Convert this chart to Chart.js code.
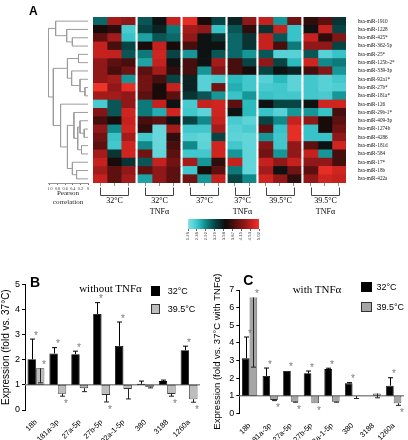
<!DOCTYPE html>
<html><head><meta charset="utf-8">
<script src="https://cdn.jsdelivr.net/npm/chart.js@4.4.1/dist/chart.umd.min.js"></script>
<style>
html,body{margin:0;padding:0;background:#fff;}
#wrap{position:relative;width:408px;height:440px;overflow:hidden;background:#fff;}
#wrap canvas{position:absolute;}
.t{position:absolute;white-space:nowrap;color:#000;line-height:1;}
.box{position:absolute;box-sizing:border-box;}
</style></head><body><div id="wrap"></div>
<script>
// ---------------- DATA ----------------
const rowNames = ['hsa-miR-1910','hsa-miR-1228','hsa-miR-425*','hsa-miR-362-5p','hsa-miR-25*','hsa-miR-125b-2*','hsa-miR-339-3p','hsa-miR-92a1*','hsa-miR-27b*','hsa-miR-181a*','hsa-miR-126','hsa-miR-29b-1*','hsa-miR-409-3p','hsa-miR-1274b','hsa-miR-4286','hsa-miR-181d','hsa-miR-584','hsa-miR-17*','hsa-miR-18b','hsa-miR-422a'];
const groupLabels = [['32°C'],['32°C','TNFα'],['37°C'],['37°C','TNFα'],['39.5°C'],['39.5°C','TNFα']];
const colorTicks = [1.26, 2.36, 2.92, 3.29, 3.58, 3.87, 4.15, 4.53, 5.02];

const heat32 = [[3.1,4.4,4.3],[3.7,3.8,2.2],[4.0,4.4,2.4],[4.6,3.9,3.3],[4.6,4.6,3.2],[4.3,4.0,3.9],[4.3,3.9,4.1],[4.3,4.4,2.8],[5.0,4.3,4.9],[4.4,4.4,4.3],[2.2,3.2,4.3],[4.2,3.2,4.7],[3.9,3.7,4.6],[4.3,2.9,4.7],[4.1,2.4,4.4],[4.0,2.3,4.7],[4.4,3.4,4.7],[4.6,3.7,3.4],[4.4,4.0,4.3],[4.6,4.0,4.4]];
const heat32T = [[3.2,3.6,4.6],[3.3,3.5,3.0],[2.7,3.2,3.1],[3.7,4.6,3.7],[3.0,4.7,3.3],[2.7,4.6,3.6],[4.0,4.4,3.8],[4.1,3.9,3.3],[4.1,3.7,4.6],[4.0,3.7,4.0],[3.0,4.6,3.6],[3.0,2.6,4.7],[3.9,4.0,3.6],[3.8,1.7,4.4],[2.3,1.7,3.8],[2.9,1.7,3.9],[4.1,1.8,4.0],[3.2,4.6,4.1],[4.0,4.3,4.0],[2.7,4.3,4.0]];
const heat37 = [[4.9,3.7,3.3],[4.4,4.3,2.4],[4.3,3.6,3.4],[3.9,3.6,3.6],[2.8,3.6,3.2],[3.9,3.6,4.4],[3.9,2.8,4.2],[3.5,2.0,2.2],[3.5,2.0,4.1],[3.4,3.2,2.8],[2.2,4.6,4.7],[2.3,1.9,4.7],[3.3,2.9,4.6],[2.3,2.3,4.4],[2.0,1.8,3.3],[2.9,1.9,4.7],[2.3,2.3,4.7],[4.4,2.8,3.8],[2.3,3.7,4.0],[4.1,2.8,4.6]];
const heat37T = [[3.5,4.3],[3.2,3.8],[3.1,3.4],[3.1,3.4],[3.1,2.8],[3.9,3.3],[3.9,3.7],[2.5,2.3],[2.6,2.3],[2.4,2.8],[4.0,2.5],[3.6,2.5],[2.2,1.9],[2.0,2.2],[1.9,1.8],[2.3,1.8],[2.8,1.8],[4.6,1.8],[3.0,1.8],[3.3,2.9]];
const heat395 = [[4.6,2.8,4.1],[3.4,4.6,2.4],[4.6,3.2,2.4],[4.6,3.9,3.0],[3.2,2.0,2.0],[4.3,3.3,2.5],[3.3,3.6,3.5],[2.0,2.5,1.9],[2.2,2.3,1.9],[2.4,2.3,2.3],[3.6,3.3,3.3],[2.4,2.0,2.8],[3.3,2.9,4.6],[4.0,2.4,4.9],[2.8,2.3,4.9],[4.2,2.3,4.3],[4.1,2.8,4.3],[4.6,4.3,4.6],[4.4,3.6,4.1],[4.7,4.3,3.8]];
const heat395T = [[3.8,4.0,3.4],[3.6,4.6,3.3],[4.6,3.8,4.2],[4.3,4.3,3.3],[3.2,2.0,2.4],[4.7,2.9,3.0],[3.9,4.2,2.8],[2.3,2.0,2.3],[2.3,2.0,2.1],[2.3,2.2,2.8],[3.6,4.7,4.7],[2.8,2.4,3.9],[4.3,3.7,4.0],[2.4,3.7,4.1],[2.4,2.4,4.3],[4.0,3.6,4.7],[4.6,2.8,3.9],[4.3,4.3,3.9],[4.0,4.9,4.7],[4.3,4.7,4.6]];

// dendrogram merges: [clusterA, clusterB, distance]; ids < 20 are leaves (rows), ids >= 20 are earlier merges
const dendroMerges = [[2,3,0.41],[1,20,0.56],[0,21,0.85],[4,5,0.25],[8,9,0.08],[7,24,0.21],[6,25,0.43],[23,26,0.54],
  [13,14,0.10],[12,28,0.21],[15,16,0.17],[29,30,0.27],[11,31,0.37],[18,19,0.30],[17,33,0.41],[32,34,0.54],[10,35,0.72],[27,36,0.91],[22,37,1.04]];
const dendroTicks = [1.0, 0.8, 0.6, 0.4, 0.2, 0];

const mirCats = ['18b','181a-3p','27a-5p','27b-5p','92a-1-5p','380','3188','1260a'];
// Panel B (without TNFα)
const b32 = [2.02, 2.25, 2.22, 3.82, 2.55, 1.04, 1.15, 2.38];
const b32Whisker = [2.82, 2.48, 2.34, 4.27, 3.50, 1.15, 1.19, 2.54];
const b32Star = [1,1,1,1,1,0,0,1];
const b395 = [1.66, 0.65, 0.87, 0.60, 0.84, 0.91, 0.64, 0.43];
const b395Whisker = [1.08, 0.55, 0.73, 0.32, 0.44, 0.88, 0.55, 0.31];
const b395Star = [1,1,0,1,0,0,1,1];
// Panel C (with TNFα)
const c32 = [3.12, 2.12, 2.40, 2.27, 2.51, 1.70, 1.00, 1.57];
const c32Whisker = [4.33, 2.57, 2.42, 2.40, 2.56, 1.74, 1.00, 2.02];
const c32Star = [1,1,1,1,1,1,0,1];
const c395 = [6.58, 0.76, 0.66, 0.57, 0.66, 0.98, 1.12, 0.57];
const c395Whisker = [2.62, 0.72, 0.63, 0.55, 0.63, 0.84, 0.88, 0.45];
const c395Star = [1,1,1,1,0,0,0,1];

// ---------------- HELPERS ----------------
Chart.defaults.font.family = "'Liberation Sans', Arial, sans-serif";
Chart.defaults.color = '#000';
const wrap = document.getElementById('wrap');
function makeCanvas(left, top, w, h){
  const c = document.createElement('canvas');
  c.width = w; c.height = h;
  c.style.left = left+'px'; c.style.top = top+'px'; c.style.width = w+'px'; c.style.height = h+'px';
  wrap.appendChild(c); return c.getContext('2d');
}
function addText(txt, x, y, font, align){
  const d = document.createElement('div'); d.className='t'; d.textContent = txt; d.style.font = font;
  d.style.left = x+'px'; d.style.top = y+'px';
  d.style.transform = align==='left' ? 'translate(0,-50%)' : 'translate(-50%,-50%)';
  wrap.appendChild(d);
}
function addBox(x, y, w, h, bg, border){
  const d = document.createElement('div'); d.className='box';
  d.style.left=x+'px'; d.style.top=y+'px'; d.style.width=w+'px'; d.style.height=h+'px';
  d.style.background=bg; d.style.border='1px solid '+border; wrap.appendChild(d);
}
const stops = [[0.00,125,222,225],[0.08,90,210,215],[0.15,45,190,195],[0.25,15,135,135],[0.38,8,68,68],[0.53,15,10,10],[0.68,92,16,16],[0.80,145,24,24],[0.90,200,34,32],[1.00,240,52,40]];
function valueToPos(v){
  const n = colorTicks.length-1;
  if (v <= colorTicks[0]) return 0;
  for (let i=0;i<n;i++){ if (v <= colorTicks[i+1]) return (i + (v-colorTicks[i])/(colorTicks[i+1]-colorTicks[i]))/n; }
  return 1;
}
function posToColor(p){
  for (let i=0;i<stops.length-1;i++){
    const a=stops[i], b=stops[i+1];
    if (p <= b[0]){ const t=(p-a[0])/(b[0]-a[0]); return `rgb(${Math.round(a[1]+(b[1]-a[1])*t)},${Math.round(a[2]+(b[2]-a[2])*t)},${Math.round(a[3]+(b[3]-a[3])*t)})`; }
  }
  const l = stops[stops.length-1]; return `rgb(${l[1]},${l[2]},${l[3]})`;
}
const heatColor = v => posToColor(valueToPos(v));

// ---------------- HEATMAP ----------------
const heatGroups = [heat32, heat32T, heat37, heat37T, heat395, heat395T];
const GAP = 0.2;
const columns = []; let xs = 0;
heatGroups.forEach((grp,g)=>{ for (let k=0;k<grp[0].length;k++){ columns.push({g,k,x0:xs}); xs += 1; } xs += GAP; });
const totalX = xs - GAP;

const hmDecor = {
  id:'hmDecor',
  afterDraw(chart){
    const {ctx} = chart; const sx = chart.scales.x; const b = chart.chartArea.bottom;
    const yTop = Math.round(b + 4) + 0.5, yBot = Math.round(b + 12) + 0.5;
    ctx.save(); ctx.strokeStyle='#444'; ctx.lineWidth=1; ctx.fillStyle='#000';
    ctx.font = "8px 'Liberation Serif'"; ctx.textAlign='center'; ctx.textBaseline='middle';
    groupLabels.forEach((lab,g)=>{
      const cols = columns.filter(c=>c.g===g);
      const x1 = Math.round(sx.getPixelForValue(cols[0].x0+0.5))+0.5;
      const x2 = Math.round(sx.getPixelForValue(cols[cols.length-1].x0+0.5))+0.5;
      ctx.beginPath(); ctx.moveTo(x1,yTop); ctx.lineTo(x1,yBot); ctx.lineTo(x2,yBot); ctx.lineTo(x2,yTop); ctx.stroke();
      lab.forEach((t,i)=> ctx.fillText(t,(x1+x2)/2, yBot+5+i*11));
    });
    ctx.restore();
  }
};
new Chart(makeCanvas(88,0,320,220), {
  type:'bar',
  data:{ labels: rowNames, datasets: columns.map(col=>({
    data: rowNames.map(()=>[col.x0, col.x0+1]),
    backgroundColor: rowNames.map((_,r)=>heatColor(heatGroups[col.g][r][col.k])),
    borderWidth:0, barPercentage:1, categoryPercentage:1, grouped:false
  }))},
  options:{
    indexAxis:'y', responsive:false, animation:false, events:[],
    layout:{padding:{left:5, top:17, right:0, bottom:0}},
    plugins:{legend:{display:false}, tooltip:{enabled:false}},
    scales:{
      x:{type:'linear', min:0, max:totalX,
         afterBuildTicks:s=>{ s.ticks = columns.map(c=>({value:c.x0+0.5})); },
         ticks:{display:false},
         grid:{drawOnChartArea:false, drawTicks:true, tickLength:3, color:'#777', lineWidth:0.8},
         border:{display:false}, afterFit:s=>{ s.height = 37; }},
      y:{type:'category', position:'right', offset:true, grid:{display:false}, border:{display:false},
         ticks:{font:{family:"'Liberation Serif'", size:5.2}, padding:4, autoSkip:false, color:'#111'},
         afterFit:s=>{ s.width = 62; }}
    }
  },
  plugins:[hmDecor]
});

// ---------------- DENDROGRAM ----------------
const dPos = rowNames.map((_,i)=>i), dH = rowNames.map(()=>0), dendroSets = [];
dendroMerges.forEach(([a,b,h])=>{
  dendroSets.push({ data:[{x:dH[a],y:dPos[a]},{x:h,y:dPos[a]},{x:h,y:dPos[b]},{x:dH[b],y:dPos[b]}],
    showLine:true, borderColor:'#9c9c9c', borderWidth:1, pointRadius:0, tension:0, fill:false });
  dPos.push((dPos[a]+dPos[b])/2); dH.push(h);
});
new Chart(makeCanvas(30,0,62,220), {
  type:'scatter',
  data:{ datasets: dendroSets },
  options:{
    responsive:false, animation:false, events:[],
    layout:{padding:{left:18, top:17, right:4, bottom:0}},
    plugins:{legend:{display:false}, tooltip:{enabled:false}},
    scales:{
      x:{type:'linear', reverse:true, min:0, max:1.05,
         afterBuildTicks:s=>{ s.ticks = dendroTicks.map(v=>({value:v})); },
         ticks:{font:{family:"'Liberation Serif'", size:4.2}, padding:1, maxRotation:0, autoSkip:false, color:'#333',
                callback:v=> v===0 ? '0' : v.toFixed(1)},
         grid:{drawOnChartArea:false, tickLength:2, color:'#777'},
         border:{display:true, color:'#777', width:0.8},
         title:{display:true, text:['Pearson','correlation'], color:'#222',
                font:{family:"'Liberation Serif'", size:7, lineHeight:1.3}, padding:{top:0, bottom:13.5}},
         afterFit:s=>{ s.height = 37; }},
      y:{type:'linear', display:false, reverse:true, min:-0.5, max:rowNames.length-0.5}
    }
  }
});

// ---------------- COLOR BAR ----------------
new Chart(makeCanvas(180,212,90,36), {
  type:'bar',
  data:{ labels:[''], datasets:[{ data:[[0, colorTicks.length-1]], borderWidth:0, barPercentage:1, categoryPercentage:1,
    backgroundColor:(c)=>{ const a=c.chart.chartArea; if(!a) return '#000';
      const g=c.chart.ctx.createLinearGradient(a.left,0,a.right,0);
      for (let i=0;i<=40;i++){ g.addColorStop(i/40, posToColor(i/40)); } return g; } }]},
  options:{
    indexAxis:'y', responsive:false, animation:false, events:[],
    layout:{padding:{left:8, right:11, top:7, bottom:0}},
    plugins:{legend:{display:false}, tooltip:{enabled:false}},
    scales:{
      x:{type:'linear', min:0, max:colorTicks.length-1,
         afterBuildTicks:s=>{ s.ticks = colorTicks.map((_,i)=>({value:i})); },
         ticks:{callback:v=>colorTicks[v].toFixed(2), minRotation:90, maxRotation:90, autoSkip:false, font:{size:4.2}, padding:1, color:'#444'},
         grid:{drawOnChartArea:false, tickLength:2, color:'#666'}, border:{display:false},
         afterFit:s=>{ s.height = 19; }},
      y:{display:false}
    }
  }
});

// ---------------- BAR CHARTS ----------------
const barDecor = {
  id:'barDecor',
  beforeDatasetsDraw(chart){
    const {ctx, chartArea:a} = chart; const py = chart.scales.y.getPixelForValue(1);
    ctx.save(); ctx.strokeStyle='#8c8c8c'; ctx.lineWidth=1.5;
    ctx.beginPath(); ctx.moveTo(a.left, py); ctx.lineTo(a.right, py); ctx.stroke(); ctx.restore();
  },
  afterDatasetsDraw(chart){
    const {ctx} = chart; const y = chart.scales.y;
    ctx.save();
    chart.data.datasets.forEach((ds,i)=>{
      const meta = chart.getDatasetMeta(i);
      meta.data.forEach((bar,j)=>{
        const v = ds.data[j][1], e = ds.whisker[j];
        const px = Math.round(bar.x)+0.5, pv = y.getPixelForValue(v), pe = y.getPixelForValue(e);
        ctx.strokeStyle = ds.whiskerColor; ctx.lineWidth = 1;
        if (Math.abs(pe-pv) > 0.5){
          ctx.beginPath(); ctx.moveTo(px,pv); ctx.lineTo(px,pe); ctx.moveTo(px-2.5,pe); ctx.lineTo(px+2.5,pe); ctx.stroke();
        }
        if (ds.stars[j]){
          const up = v >= 1; const ext = up ? Math.max(v,e) : Math.min(v,e);
          const ps = y.getPixelForValue(ext);
          ctx.fillStyle='#7a7a7a'; ctx.font="10px 'Liberation Sans'"; ctx.textAlign='center'; ctx.textBaseline='middle';
          ctx.fillText('*', px+3.5, up ? ps-3 : ps+8);
        }
      });
    });
    ctx.restore();
  }
};
function barChart(left, top, w, h, o){
  return new Chart(makeCanvas(left, top, w, h), {
    type:'bar',
    data:{ labels: mirCats, datasets:[
      {label:'32°C', data:o.v32.map(v=>[1,v]), whisker:o.w32, stars:o.s32, whiskerColor:'#000',
       backgroundColor:'#000', borderColor:'#000', borderWidth:0.8, borderSkipped:false},
      {label:'39.5°C', data:o.v395.map(v=>[1,v]), whisker:o.w395, stars:o.s395, whiskerColor:'#222',
       backgroundColor:o.gray, borderColor:'#333', borderWidth:0.8, borderSkipped:false}
    ]},
    options:{
      responsive:false, animation:false, events:[],
      layout:{padding:{left:o.padLeft, top:o.padTop, right:o.padRight, bottom:0}},
      datasets:{bar:{barPercentage:1, categoryPercentage:o.catPct}},
      plugins:{legend:{display:false}, tooltip:{enabled:false}},
      scales:{
        x:{grid:{display:false}, border:{display:false},
           ticks:{font:{size:7.5}, minRotation:45, maxRotation:45, padding:0, autoSkip:false},
           afterFit:s=>{ s.height = o.xH; }},
        y:{min:0, max:o.yMax, ticks:{stepSize:1, font:{size:9}, padding:2},
           grid:{drawOnChartArea:false, tickLength:3, color:'#000'},
           border:{display:true, color:'#000', width:1},
           title:{display:true, text:o.yTitle, font:{size:o.titleSize}, padding:{top:0, bottom:0}},
           afterFit:s=>{ s.width = o.yW; }}
      }
    },
    plugins:[barDecor]
  });
}
barChart(0,240,205,200,{v32:b32,w32:b32Whisker,s32:b32Star,v395:b395,w395:b395Whisker,s395:b395Star,
  gray:'#bdbdbd', padLeft:0, padTop:44.3, padRight:5, yW:25, xH:30, yMax:5, catPct:0.77,
  yTitle:'Expression (fold vs. 37°C)', titleSize:10});
barChart(205,240,203,200,{v32:c32,w32:c32Whisker,s32:c32Star,v395:c395,w395:c395Whisker,s395:c395Star,
  gray:'#a5a5a5', padLeft:7, padTop:50, padRight:4, yW:27.3, xH:26.7, yMax:7, catPct:0.74,
  yTitle:'Expression (fold vs. 37°C with TNFα)', titleSize:9.5});

// ---------------- TEXT / LEGENDS ----------------
addText('A', 33.3, 10.5, "bold 12px 'Liberation Sans'");
addText('B', 35, 281.7, "bold 14px 'Liberation Sans'");
addText('C', 248.3, 279.7, "bold 14px 'Liberation Sans'");
addText('without TNFα', 110.5, 288, "11px 'Liberation Serif'");
addText('with TNFα', 317, 289, "11px 'Liberation Serif'");
addBox(150.7, 285.7, 9.5, 10, '#000', '#000');
addBox(150.7, 303.7, 9.5, 10, '#bdbdbd', '#333');
addText('32°C', 167.7, 290.7, "9px 'Liberation Sans'", 'left');
addText('39.5°C', 167.7, 308.5, "9px 'Liberation Sans'", 'left');
addBox(361, 282, 11, 10, '#000', '#000');
addBox(361, 302, 11, 9.5, '#a5a5a5', '#333');
addText('32°C', 376.5, 287, "9px 'Liberation Sans'", 'left');
addText('39.5°C', 376.5, 306.5, "9px 'Liberation Sans'", 'left');
</script></body></html>
